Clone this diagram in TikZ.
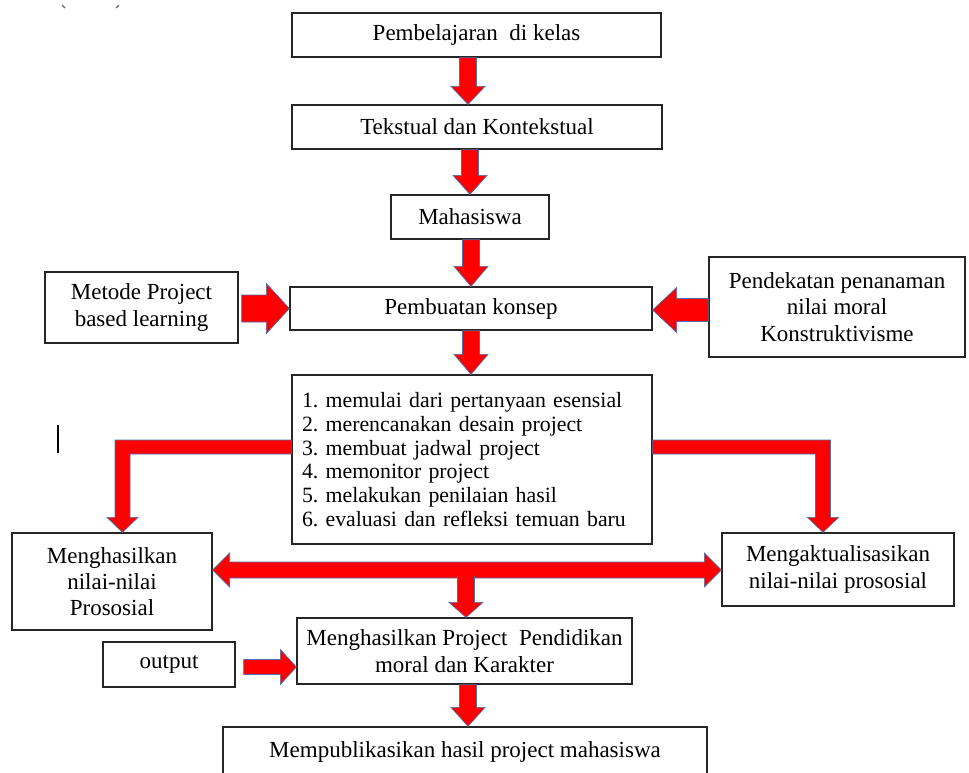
\documentclass[tikz,border=0pt]{standalone}
\usepackage{fontspec}
\setmainfont{Liberation Serif}
\usetikzlibrary{calc}
\definecolor{arrred}{RGB}{255,0,0}
\definecolor{arrline}{RGB}{79,110,170}
\tikzset{
  box/.style={draw=black!85, line width=1.3pt, rectangle, inner sep=0pt, align=center,
    font=\fontsize{23}{26.3}\selectfont\frenchspacing},
  blk/.style={fill=arrred, draw=arrline, line width=0.7pt, line join=miter},
}
% vertical down arrow: from point, to point, x centre, head length
\newcommand\DownArr[4]{%
  \path[blk] let \p1=#1, \p2=#2 in
  (#3pt-8.5pt,\y1) -- (#3pt+8.5pt,\y1) -- (#3pt+8.5pt,\y2+#4pt) -- (#3pt+17pt,\y2+#4pt)
  -- (#3pt,\y2) -- (#3pt-17pt,\y2+#4pt) -- (#3pt-8.5pt,\y2+#4pt) -- cycle;}
% right arrow: from, to, y centre, head length, shaft half, head half
\newcommand\RightArr[6]{%
  \path[blk] let \p1=#1, \p2=#2 in
  (\x1,-#3pt+#5pt) -- (\x2-#4pt,-#3pt+#5pt) -- (\x2-#4pt,-#3pt+#6pt) -- (\x2,-#3pt)
  -- (\x2-#4pt,-#3pt-#6pt) -- (\x2-#4pt,-#3pt-#5pt) -- (\x1,-#3pt-#5pt) -- cycle;}
% left arrow: from (right side), to (left side), y centre, head length, shaft half, head half
\newcommand\LeftArr[6]{%
  \path[blk] let \p1=#1, \p2=#2 in
  (\x1,-#3pt+#5pt) -- (\x2+#4pt,-#3pt+#5pt) -- (\x2+#4pt,-#3pt+#6pt) -- (\x2,-#3pt)
  -- (\x2+#4pt,-#3pt-#6pt) -- (\x2+#4pt,-#3pt-#5pt) -- (\x1,-#3pt-#5pt) -- cycle;}
\begin{document}
\begin{tikzpicture}[x=1pt,y=-1pt]
\useasboundingbox (0,0) rectangle (969,772);

% nodes
\node[box, minimum width=369, minimum height=44] (A) at (476.5,35) {Pembelajaran\ \ di kelas};
\node[box, minimum width=370, minimum height=44] (B) at (477,127) {Tekstual dan Kontekstual};
\node[box, minimum width=158, minimum height=44] (C) at (470,217) {Mahasiswa};
\node[box, minimum width=362, minimum height=43] (D) at (471,308.5) {Pembuatan konsep};
\node[box, minimum width=193, minimum height=71] (M) at (141.5,307.5) {Metode Project\\based learning};
\node[box, minimum width=256, minimum height=100] (P) at (837,307) {Pendekatan penanaman\\nilai moral\\Konstruktivisme};
\node[box, text width=340, inner xsep=10, minimum height=169, align=left,
      font=\fontsize{21.8}{23.7}\selectfont\frenchspacing] (E) at (472,459.5)
  {1. memulai dari pertanyaan esensial\\
   2. merencanakan desain project\\
   3. membuat jadwal project\\
   4. memonitor project\\
   5. melakukan penilaian hasil\\
   6. evaluasi dan refleksi temuan baru};
\node[box, minimum width=200, minimum height=97] (N) at (112,581.5) {Menghasilkan\\nilai-nilai\\Prososial};
\node[box, minimum width=232, minimum height=73] (K) at (838,569.5) {Mengaktualisasikan\\nilai-nilai prososial};
\node[box, minimum width=335, minimum height=66] (F) at (464.5,651) {Menghasilkan Project\ \ Pendidikan\\moral dan Karakter};
\node[box, minimum width=132, minimum height=45] (O) at (169,664.5) {output};
\node[box, minimum width=484, minimum height=50] (G) at (465,752) {Mempublikasikan hasil project mahasiswa};

% vertical arrows
\DownArr{(A.south)}{(B.north)}{468}{18}
\DownArr{(B.south)}{(C.north)}{470}{19}
\DownArr{(C.south)}{(D.north)}{471}{20}
\DownArr{(D.south)}{(E.north)}{471}{20}
\DownArr{(F.south)}{(G.north)}{468}{19}

% side arrows into "Pembuatan konsep"
\RightArr{($(M.east)+(3,0)$)}{(D.west)}{308.5}{23}{13.5}{25}
\LeftArr{(P.west)}{(D.east)}{310}{24}{11.5}{22.5}

% output arrow
\RightArr{($(O.east)+(8,0)$)}{(F.west)}{667}{16}{7.5}{17.5}

% elbow arrows
\path[blk] let \p1=(E.west), \p2=(N.north) in
  (\x1,-440pt) -- (115pt,-440pt) -- (115pt,\y2+15pt) -- (107pt,\y2+15pt) -- (122.5pt,\y2)
  -- (138pt,\y2+15pt) -- (130pt,\y2+15pt) -- (130pt,-454pt) -- (\x1,-454pt) -- cycle;
\path[blk] let \p1=(E.east), \p2=(K.north) in
  (\x1,-440pt) -- (830.5pt,-440pt) -- (830.5pt,\y2+15pt) -- (838.5pt,\y2+15pt) -- (823pt,\y2)
  -- (807.5pt,\y2+15pt) -- (815.5pt,\y2+15pt) -- (815.5pt,-454pt) -- (\x1,-454pt) -- cycle;

% double arrow between N and K
\path[blk] let \p1=(N.east), \p2=(K.west) in
  (\x1,-570pt) -- (\x1+17pt,-553pt) -- (\x1+17pt,-562pt) -- (\x2-17pt,-562pt) -- (\x2-17pt,-553pt)
  -- (\x2,-570pt) -- (\x2-17pt,-587pt) -- (\x2-17pt,-578pt) -- (\x1+17pt,-578pt) -- (\x1+17pt,-587pt) -- cycle;
\coordinate (dmid) at (466,576);
\DownArr{(dmid)}{(F.north)}{466}{15}
\fill[arrred] (458.2,571) rectangle (473.8,580);

% stray marks
\draw[line width=1.2pt] (58,425) -- (58,453);
\draw[black!60, line width=1.3pt] (62,5) -- (65,8);
\draw[black!60, line width=1.3pt] (119,5) -- (116,8);
\end{tikzpicture}
\end{document}
